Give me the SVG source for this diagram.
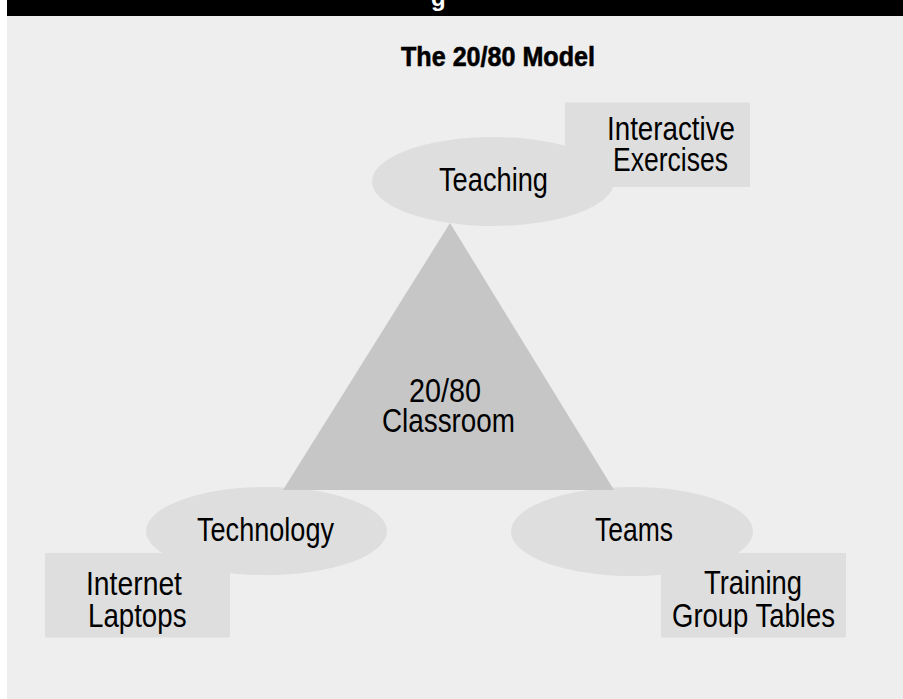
<svg xmlns="http://www.w3.org/2000/svg" width="903" height="699" viewBox="0 0 903 699">
  <style>
    .bg { fill: #eeeeee; }
    .shape { fill: #dedede; }
    .tri { fill: #c6c6c6; }
    .lbl { font-family: "Liberation Sans", Arial, sans-serif; font-size: 33px; fill: #000; }
    .title { font-family: "Liberation Sans", Arial, sans-serif; font-size: 28px; font-weight: bold; fill: #000; stroke: #000; stroke-width: 0.6px; }
  </style>
  <rect x="0" y="0" width="903" height="699" fill="#ffffff"/>
  <rect class="bg" x="7" y="14" width="896" height="685"/>
  <rect x="7" y="0" width="896" height="16" fill="#000000"/>
  <text x="431" y="6" font-family="Liberation Sans, sans-serif" font-size="24" font-weight="bold" fill="#ffffff">g</text>
  <text class="title" x="401" y="66" textLength="194" lengthAdjust="spacingAndGlyphs">The 20/80 Model</text>

  <g id="teaching">
    <rect class="shape" x="565" y="102.5" width="185" height="84.5"/>
    <ellipse class="shape" cx="493" cy="181.5" rx="121" ry="44.5"/>
    <text class="lbl" x="439" y="191" textLength="109" lengthAdjust="spacingAndGlyphs">Teaching</text>
    <text class="lbl" x="607" y="140" textLength="128" lengthAdjust="spacingAndGlyphs">Interactive</text>
    <text class="lbl" x="613" y="171" textLength="115" lengthAdjust="spacingAndGlyphs">Exercises</text>
  </g>

  <g id="technology">
    <rect class="shape" x="45" y="553" width="185" height="84.5"/>
    <ellipse class="shape" cx="266.5" cy="531" rx="120.5" ry="44"/>
    <text class="lbl" x="197" y="541" textLength="137" lengthAdjust="spacingAndGlyphs">Technology</text>
    <text class="lbl" x="86" y="595" textLength="96" lengthAdjust="spacingAndGlyphs">Internet</text>
    <text class="lbl" x="88" y="627.3" textLength="98.5" lengthAdjust="spacingAndGlyphs">Laptops</text>
  </g>

  <g id="teams">
    <rect class="shape" x="661" y="553" width="185" height="84.5"/>
    <ellipse class="shape" cx="632" cy="531.5" rx="121" ry="44.5"/>
    <text class="lbl" x="595" y="541" textLength="78" lengthAdjust="spacingAndGlyphs">Teams</text>
    <text class="lbl" x="704" y="594" textLength="98" lengthAdjust="spacingAndGlyphs">Training</text>
    <text class="lbl" x="672" y="627" textLength="163" lengthAdjust="spacingAndGlyphs">Group Tables</text>
  </g>

  <g id="classroom">
    <polygon class="tri" points="450,223 283,490 614,490"/>
    <text class="lbl" x="409" y="401.7" textLength="72" lengthAdjust="spacingAndGlyphs">20/80</text>
    <text class="lbl" x="382" y="432.3" textLength="133" lengthAdjust="spacingAndGlyphs">Classroom</text>
  </g>

  <g id="connectors"></g>
</svg>
